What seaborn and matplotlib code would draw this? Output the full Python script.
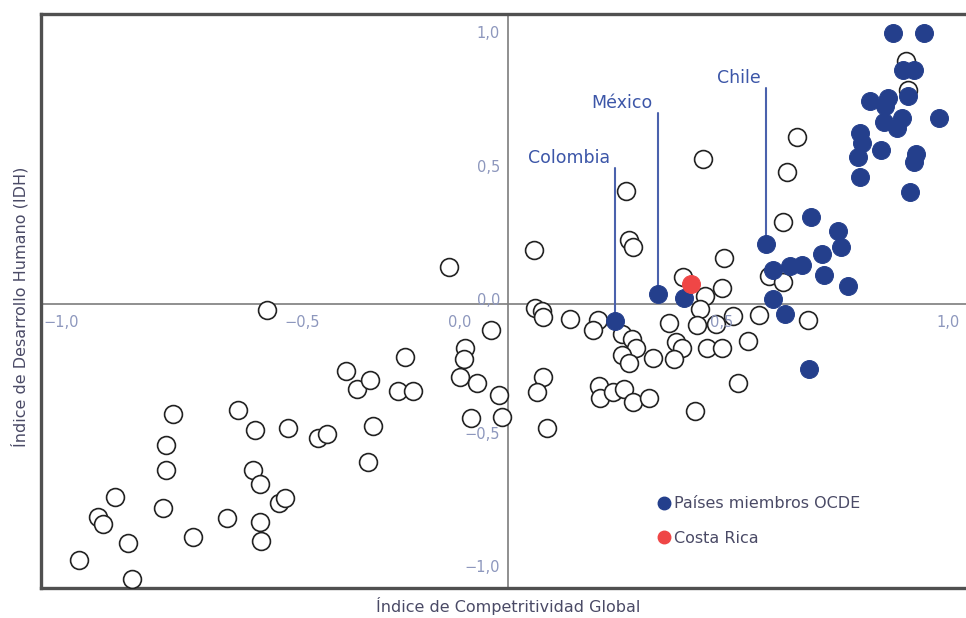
import numpy as np
import pandas as pd
import matplotlib
matplotlib.use("Agg")
import matplotlib.pyplot as plt
from matplotlib.lines import Line2D
import seaborn as sns

# ---------------- data ----------------
# Other countries (open circles)
other_x = [-0.919, -0.878, -0.867, -0.842, -0.814, -0.805, -0.739, -0.732, -0.732, -0.717,
           -0.675, -0.602, -0.578, -0.542, -0.546, -0.531, -0.490, -0.478, -0.531, -0.529,
           -0.471, -0.516, -0.407, -0.388, -0.347, -0.323, -0.296, -0.289, -0.300, -0.221,
           -0.236, -0.203, -0.126, -0.092, -0.094, -0.103, -0.066, -0.036, -0.019, -0.079,
           -0.013, 0.056, 0.058, 0.073, 0.075, 0.133, 0.193, 0.182, 0.244, 0.266,
           0.274, 0.244, 0.259, 0.310, 0.075, 0.062, 0.084, 0.195, 0.197, 0.225,
           0.248, 0.268, 0.302, 0.253, 0.259, 0.268, 0.418, 0.375, 0.422, 0.411,
           0.458, 0.463, 0.345, 0.405, 0.445, 0.482, 0.537, 0.360, 0.373, 0.355,
           0.426, 0.458, 0.514, 0.493, 0.400, 0.642, 0.559, 0.589, 0.589, 0.597,
           0.619, 0.852, 0.857]
other_y = [-0.959, -0.798, -0.824, -0.723, -0.895, -1.030, -0.764, -0.528, -0.622, -0.412,
           -0.873, -0.801, -0.397, -0.472, -0.622, -0.674, -0.745, -0.727, -0.816, -0.888,
           -0.464, -0.022, -0.502, -0.487, -0.251, -0.318, -0.285, -0.457, -0.592, -0.199,
           -0.326, -0.326, 0.139, -0.165, -0.206, -0.273, -0.296, -0.097, -0.341, -0.427,
           -0.423, 0.202, -0.015, -0.026, -0.049, -0.056, -0.060, -0.097, -0.112, -0.131,
           -0.165, -0.191, -0.221, -0.202, -0.273, -0.330, -0.464, -0.307, -0.352, -0.330,
           -0.318, -0.367, -0.352, 0.423, 0.240, 0.213, 0.543, 0.101, 0.030, -0.019,
           0.060, 0.172, -0.071, -0.079, -0.075, -0.045, -0.041, -0.142, -0.165, -0.206,
           -0.165, -0.165, -0.139, -0.296, -0.401, -0.060, 0.105, 0.082, 0.307, 0.494,
           0.625, 0.910, 0.801]

# OECD member countries (filled blue)
oecd_x = [0.229, 0.321, 0.377, 0.552, 0.649, 0.707, 0.713, 0.672, 0.677, 0.728,
          0.567, 0.604, 0.630, 0.567, 0.593, 0.645, 0.824, 0.891, 0.846, 0.869,
          0.775, 0.814, 0.807, 0.857, 0.923, 0.805, 0.844, 0.833, 0.754, 0.758,
          0.799, 0.749, 0.754, 0.874, 0.869, 0.861]
oecd_y = [-0.064, 0.037, 0.022, 0.225, 0.326, 0.273, 0.213, 0.187, 0.109, 0.067,
          0.127, 0.142, 0.146, 0.019, -0.037, -0.243, 1.015, 1.015, 0.876, 0.876,
          0.760, 0.772, 0.742, 0.779, 0.697, 0.682, 0.697, 0.659, 0.640, 0.603,
          0.577, 0.551, 0.476, 0.562, 0.532, 0.419]

# Costa Rica
cr_x = [0.392]
cr_y = [0.075]

# Labelled countries: index into OECD arrays and top of the leader line
label_names = ["Colombia", "México", "Chile"]
label_idx = [0, 1, 3]
label_top = [0.509, 0.715, 0.809]

tick_vals = [-1.0, -0.5, 0.0, 0.5, 1.0]
tick_text = ["\u22121,0", "\u22120,5", "0,0", "0,5", "1,0"]
xtick_label_pos = [-0.957, -0.441, -0.103, 0.458, 0.942]

legend_labels = ["Países miembros OCDE", "Costa Rica"]
x_title = "Índice de Competritividad Global"
y_title = "Índice de Desarrollo Humano (IDH)"

# ---------------- style ----------------
BLUE = "#243f8c"
RED = "#ef4646"
LINE_BLUE = "#4b62ad"
TXT_BLUE = "#3c56a8"
TICK_COL = "#8d97bd"
LABEL_COL = "#4a4a66"

sns.set_theme(style="white")
plt.rcParams["font.family"] = ["DejaVu Sans"]

W, H = 966, 618
fig = plt.figure(figsize=(W / 100, H / 100), dpi=100)
ax = fig.add_axes([41 / W, 30 / H, (W - 41) / W, (588 - 14) / H])

x0, y0 = 508, 304
ux, uy = 467.0, 267.0
ax.set_xlim(-1.0, (W - x0) / ux)
ax.set_ylim(-(588 - y0) / uy, (y0 - 14) / uy)

# zero lines
ax.axhline(0, color="#7d7d7d", lw=1.2, zorder=1)
ax.axvline(0, color="#7d7d7d", lw=1.2, zorder=1)

df_other = pd.DataFrame({"x": other_x, "y": other_y})
df_oecd = pd.DataFrame({"x": oecd_x, "y": oecd_y})
df_cr = pd.DataFrame({"x": cr_x, "y": cr_y})

ms = 165
sns.scatterplot(data=df_other, x="x", y="y", ax=ax, s=ms, facecolor="white",
                edgecolor="#222222", linewidth=1.2, zorder=3, legend=False)
sns.scatterplot(data=df_oecd, x="x", y="y", ax=ax, s=ms, color=BLUE,
                edgecolor=BLUE, linewidth=0.8, zorder=4, legend=False)
sns.scatterplot(data=df_cr, x="x", y="y", ax=ax, s=ms, color=RED,
                edgecolor=RED, linewidth=0.8, zorder=5, legend=False)

# leader lines and labels
for name, i, top in zip(label_names, label_idx, label_top):
    px, py = oecd_x[i], oecd_y[i]
    ax.plot([px, px], [py, top], color=LINE_BLUE, lw=1.5, zorder=2)
    ax.text(px - 0.011, top + 0.004, name, ha="right", va="bottom",
            color=TXT_BLUE, fontsize=12.5, zorder=6)

# custom tick labels
for xv, t in zip(xtick_label_pos, tick_text):
    ax.text(xv, -0.068, t, ha="center", va="center", color=TICK_COL, fontsize=10.5)
for yv, t in zip(tick_vals, tick_text):
    ax.text(-0.017, yv + 0.012, t, ha="right", va="center", color=TICK_COL, fontsize=10.5)

ax.set_xticks([])
ax.set_yticks([])
ax.set_xlabel("")
ax.set_ylabel("")

for side in ["left", "top", "bottom"]:
    ax.spines[side].set_color("#505050")
    ax.spines[side].set_linewidth(2.4)
ax.spines["right"].set_visible(False)

fig.text(508 / W, 1 - 606 / H, x_title, ha="center", va="center",
         color=LABEL_COL, fontsize=11.5)
fig.text(20 / W, 1 - 307 / H, y_title, ha="center", va="center",
         rotation=90, color=LABEL_COL, fontsize=11.5)

handles = [Line2D([], [], marker="o", ls="", color=BLUE, markersize=9),
           Line2D([], [], marker="o", ls="", color=RED, markersize=9)]
leg = ax.legend(handles, legend_labels, loc="upper left",
                bbox_to_anchor=((650 - 41) / (W - 41), (588 - 490) / 574),
                frameon=False, handletextpad=0.1, handlelength=1.0,
                labelspacing=1.2, fontsize=11.5, borderaxespad=0)
for t in leg.get_texts():
    t.set_color(LABEL_COL)

fig.savefig("out.png", dpi=100)
